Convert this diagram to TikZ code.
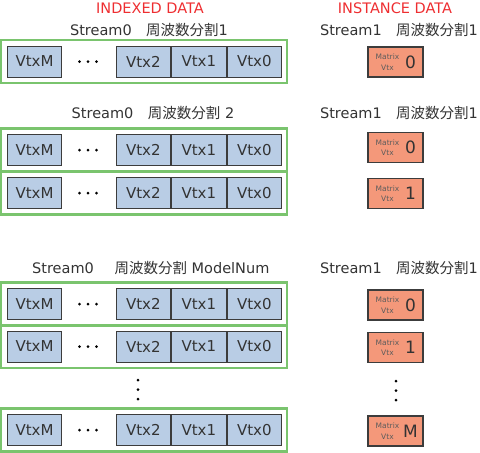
\documentclass[tikz,border=0pt]{standalone}
\usepackage{fontspec}
\setmainfont{DejaVu Sans}
\newfontfamily\jp{Noto Sans CJK JP}
\usepackage{xcolor}
\usepackage{tikz}
\usetikzlibrary{positioning}

\definecolor{vtxblue}{HTML}{B9CDE5}
\definecolor{grpgreen}{HTML}{7AC46E}
\definecolor{matorange}{HTML}{F4987A}
\definecolor{edgegrey}{HTML}{3C3C3C}
\definecolor{titlered}{HTML}{EE2E31}
\definecolor{txtgrey}{HTML}{333333}

\begin{document}
\begin{tikzpicture}[x=1pt, y=-1pt,
  every node/.style={inner sep=0pt, text=txtgrey},
  vtx/.style={draw=edgegrey, fill=vtxblue, line width=1pt,
    minimum width=54.5pt, minimum height=31pt,
    font=\fontsize{15}{17}\selectfont},
  grp/.style={draw=grpgreen, line width=2.5pt,
    minimum width=286pt, minimum height=43pt},
  matbox/.style={draw=edgegrey, fill=matorange, line width=1.2pt,
    minimum width=55pt, minimum height=30pt},
  matlbl/.style={align=center, text=txtgrey!80, font=\fontsize{7.5}{10.5}\selectfont},
  matnum/.style={font=\fontsize{17}{19}\selectfont},
  head/.style={text=titlered, font=\fontsize{14.5}{16}\selectfont},
  sub/.style={font=\fontsize{14.5}{17}\selectfont},
]
\useasboundingbox (0,0) rectangle (480,453);

%% headings
\node[head] (hidx)  at (150,8) {INDEXED DATA};
\node[head] (hinst) at (395,8) {INSTANCE DATA};

\node[sub] (s0a) at (149,30)  {Stream0\quad{\jp 周波数分割}1};
\node[sub] (s1a) at (399,30)  {Stream1\quad{\jp 周波数分割}1};
\node[sub] (s0b) at (153,113) {Stream0\quad{\jp 周波数分割} 2};
\node[sub] (s1b) at (399,113) {Stream1\quad{\jp 周波数分割}1};
\node[sub] (s0c) at (63,268)  {Stream0};
\node[sub] (dmc) at (192,268) {{\jp 周波数分割} ModelNum};
\node[sub] (s1c) at (399,268) {Stream1\quad{\jp 周波数分割}1};

%% indexed data rows
\foreach \r/\yy in {a/61.5, b/150, c/193, d/304, e/346.5, f/430} {
  \node[grp] (g\r) at (144,\yy) {};
  \node[vtx] (vm\r) at (34.5,\yy) {VtxM};
  \coordinate (dt\r) at (88,\yy);
  \fill[black] (dt\r) ++(-8.5,0) circle (1.5) (dt\r) circle (1.5) ++(8.5,0) circle (1.5);
  \node[vtx] (v2\r) at (143.3,\yy) {Vtx2};
  \node[vtx] (v1\r) [right=0pt of v2\r] {Vtx1};
  \node[vtx] (v0\r) [right=0pt of v1\r] {Vtx0};
}

%% instance data
\foreach \m/\yy/\n in {a/62/0, b/147.5/0, c/193.5/1, d/305/0, e/347.5/1, f/431/M} {
  \node[matbox] (mat\m) at (395.5,\yy) {};
  \node[matlbl] (ml\m) at ([xshift=-8pt]mat\m.center) {Matrix\\Vtx};
  \node[matnum] (mn\m) at ([xshift=15pt]mat\m.center) {\n};
}

%% vertical dots
\coordinate (vd1) at (138,389.5);
\coordinate (vd2) at (396,390.5);
\foreach \c in {vd1, vd2}
  \fill[black] (\c) ++(0,-9.5) circle (1.5) (\c) circle (1.5) ++(0,9.5) circle (1.5);

\end{tikzpicture}
\end{document}
